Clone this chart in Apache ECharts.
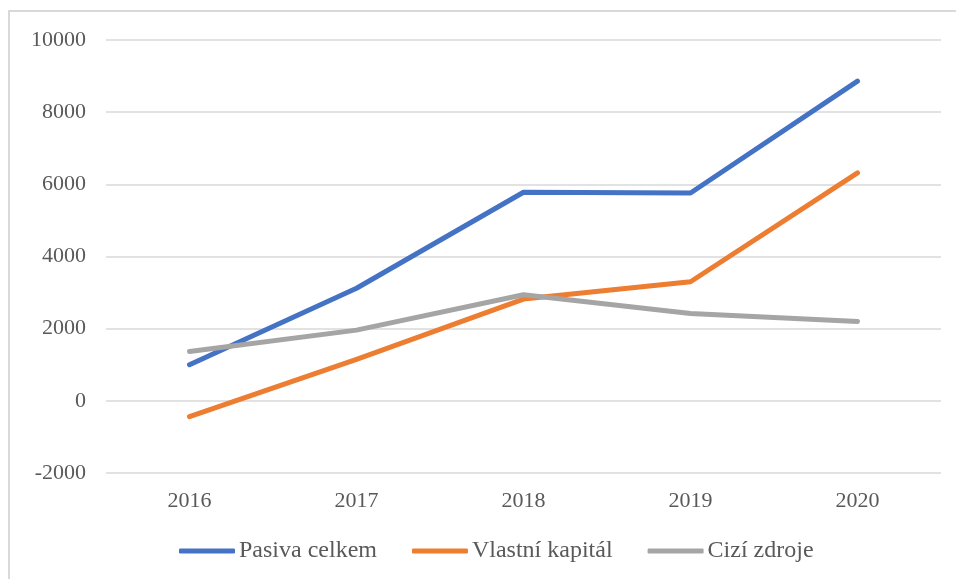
<!DOCTYPE html>
<html>
<head>
<meta charset="utf-8">
<script src="https://cdn.jsdelivr.net/npm/echarts@6/dist/echarts.min.js"></script>
<style>
html, body { margin: 0; padding: 0; background: #fff; }
#chart { width: 956px; height: 579px; }
#frame { position: absolute; left: 8px; top: 10px; width: 948px; height: 569px; border-left: 2px solid #d9d9d9; border-top: 2px solid #d9d9d9; box-sizing: border-box; pointer-events: none; }
</style>
</head>
<body>
<div id="chart"></div>
<div id="frame"></div>
<script>
var years = ['2016', '2017', '2018', '2019', '2020'];
var pasivaCelkem = [1000, 3120, 5780, 5760, 8860];
var vlastniKapital = [-440, 1150, 2820, 3300, 6320];
var ciziZdroje = [1370, 1960, 2940, 2420, 2200];

var fontFamily = '"Liberation Serif", "Times New Roman", serif';
var myChart = echarts.init(document.getElementById('chart'));

function lineSeries(name, data, color) {
	return {
		name: name,
		type: 'line',
		data: data,
		symbol: 'none',
		lineStyle: { width: 5, color: color, cap: 'round', join: 'round' },
		itemStyle: { color: color }
	};
}

var options = {
	animation: false,
	textStyle: { fontFamily: fontFamily },
	grid: { left: 106, right: 15, top: 40, bottom: 106 },
	legend: {
		bottom: 11,
		left: 174,
		itemWidth: 56,
		itemHeight: 5,
		itemGap: 35,
		icon: 'roundRect',
		textStyle: { fontSize: 24, color: '#595959', fontFamily: fontFamily, padding: [0, 0, 0, -1] },
		data: ['Pasiva celkem', 'Vlastní kapitál', 'Cizí zdroje']
	},
	xAxis: {
		type: 'category',
		data: years,
		boundaryGap: true,
		axisLine: { show: false },
		axisTick: { show: false },
		axisLabel: { fontSize: 22, color: '#595959', margin: 17 }
	},
	yAxis: {
		type: 'value',
		min: -2000,
		max: 10000,
		interval: 2000,
		axisLine: { show: false },
		axisTick: { show: false },
		axisLabel: {
			fontSize: 22,
			color: '#595959',
			margin: 20,
			formatter: function(v) { return String(v); }
		},
		splitLine: { lineStyle: { color: '#d9d9d9', width: 1.5 } }
	},
	series: [
		lineSeries('Pasiva celkem', pasivaCelkem, '#4472c4'),
		lineSeries('Vlastní kapitál', vlastniKapital, '#ed7d31'),
		lineSeries('Cizí zdroje', ciziZdroje, '#a5a5a5')
	]
};

myChart.setOption(options);
</script>
</body>
</html>
